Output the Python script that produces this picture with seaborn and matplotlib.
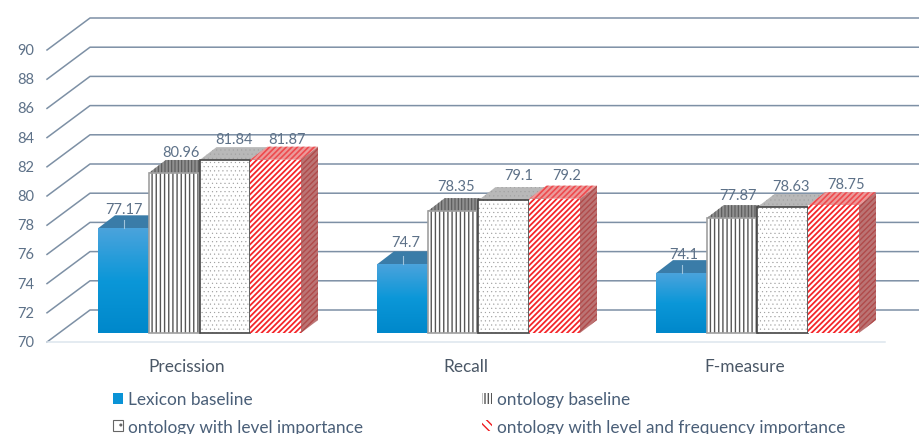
import matplotlib
matplotlib.use("Agg")
import matplotlib.pyplot as plt
import numpy as np
import pandas as pd
import seaborn as sns
from matplotlib.colors import LinearSegmentedColormap
from matplotlib.lines import Line2D
from matplotlib.patches import Patch, Polygon
from matplotlib.transforms import IdentityTransform

# values
metrics = ["Precission", "Recall", "F-measure"]
series = ["Lexicon baseline", "ontology baseline", "ontology with level importance",
          "ontology with level and frequency importance"]
lexicon = [77.17, 74.7, 74.1]
onto_base = [80.96, 78.35, 77.87]
onto_level = [81.84, 79.1, 78.63]
onto_freq = [81.87, 79.2, 78.75]
value_labels = [["77.17", "74.7", "74.1"], ["80.96", "78.35", "77.87"],
                ["81.84", "79.1", "78.63"], ["81.87", "79.2", "78.75"]]
yticks = [70, 72, 74, 76, 78, 80, 82, 84, 86, 88, 90]

W, H = 919, 435
BASE = 70
ROW70 = 334           # pixel row of 70 on the bar front
DEPTH = (17, 13)      # bar depth in pixels
FLOOR_DROP = 9        # wall front sits lower than the bar front
WALL = (43, 32)
TEXT = "#5d7188"

plt.rcParams["font.family"] = ["Lato", "DejaVu Sans"]

df = pd.DataFrame({
    "metric": metrics * 4,
    "series": np.repeat(series, 3),
    "value": lexicon + onto_base + onto_level + onto_freq,
})

fig = plt.figure(figsize=(W / 100, H / 100), dpi=100)
ax = fig.add_axes([0, 0, 1, 1])
sns.barplot(data=df, x="metric", y="value", hue="series", hue_order=series,
            order=metrics, width=0.7276, gap=0, errorbar=None, legend=False,
            palette=["white"] * 4, ax=ax)


def set_limits():
    # 14.6 px per unit, groups 279 px apart
    ax.set_xlim(-199.5 / 279, (W - 199.5) / 279)
    ax.set_ylim(BASE - (H - ROW70) / 14.6, BASE + ROW70 / 14.6)


set_limits()
ax.axis("off")
px = IdentityTransform()


def to_px(x, y):
    return ax.transData.transform((x, y))


# back wall and side wall lines
for v in yticks:
    y0 = to_px(0, v)[1] - FLOOR_DROP
    ax.add_line(Line2D([47, 47 + WALL[0], W], [y0, y0 + WALL[1], y0 + WALL[1]],
                       transform=px, color="#7d90a5", lw=1.1, zorder=1))
    ax.text(34, y0, str(v), transform=px, ha="right", va="center", fontsize=10.5, color=TEXT)
y0 = to_px(0, BASE)[1] - FLOOR_DROP
ax.add_line(Line2D([47, 885], [y0, y0], transform=px, color="#dde6ee", lw=1.1, zorder=1))

face_styles = [
    dict(facecolor="#0a93d6", edgecolor="none"),
    dict(facecolor="white", edgecolor="#555555", hatch="||||", lw=0, hatch_linewidth=1.0),
    dict(facecolor="white", edgecolor="#9a9a9a", hatch="....", lw=0, hatch_linewidth=0.3),
    dict(facecolor="white", edgecolor="#f5262a", hatch="//////", lw=0, hatch_linewidth=1.3),
]
top_styles = [
    dict(facecolor="#3a7ca8", edgecolor="none"),
    dict(facecolor="#8f8f8f", edgecolor="#5a5a5a", hatch="|||||", lw=0, hatch_linewidth=0.8),
    dict(facecolor="#b8b8b8", edgecolor="#a0a0a0", hatch="....", lw=0, hatch_linewidth=0.3),
    dict(facecolor="#eb9a9a", edgecolor="#ee4a4e", hatch="//////", lw=0, hatch_linewidth=1.2),
]
side_styles = [
    dict(facecolor="#2a6f9c", edgecolor="none"),
    dict(facecolor="#777777", edgecolor="none"),
    dict(facecolor="#8a8a8a", edgecolor="none"),
    dict(facecolor="#bb7474", edgecolor="#b04a4a", hatch="//////", lw=0, hatch_linewidth=1.0),
]
outline = [None, "#a0a0a0", "#454545", None]
label_dx = [[1, 3, 2], [7, 3, 6], [9.5, 15, 8], [11.5, 12, 12]]
label_dy = [[19, 22, 19], [21, 25, 23], [21, 25, 21], [21, 24, 21]]

blue_map = LinearSegmentedColormap.from_list("blue", ["#4aa3dc", "#0b97d8", "#0088cb"])
gradient = np.linspace(0, 1, 64).reshape(-1, 1)

for i, container in enumerate(ax.containers):
    z = 3 + 2 * i
    for j, bar in enumerate(container):
        top = bar.get_height()
        bar.set_y(BASE)
        bar.set_height(top - BASE)
        bar.set(zorder=z + 1, **face_styles[i])
        x0, x1 = bar.get_x(), bar.get_x() + bar.get_width()
        (xa, ya), (xb, yb) = to_px(x0, BASE), to_px(x1, top)
        ax.add_patch(Polygon([(xa, yb), (xb, yb), (xb + DEPTH[0], yb + DEPTH[1]), (xa + DEPTH[0], yb + DEPTH[1])],
                             transform=px, zorder=z, **top_styles[i]))
        ax.add_patch(Polygon([(xb, ya), (xb, yb), (xb + DEPTH[0], yb + DEPTH[1]), (xb + DEPTH[0], ya + DEPTH[1])],
                             transform=px, zorder=z, **side_styles[i]))
        if outline[i]:
            ax.add_patch(Polygon([(xa, ya), (xb, ya), (xb, yb), (xa, yb)], transform=px, fill=False,
                                 edgecolor=outline[i], lw=1.2, zorder=z + 1.2))
        if i == 0:
            ax.imshow(gradient, extent=(x0, x1, BASE, top), aspect="auto", cmap=blue_map,
                      zorder=z + 1.5)
            ax.add_line(Line2D([(xa + xb) / 2 + 1] * 2, [yb, yb + 8], transform=px,
                               color="#9fc4dc", lw=0.8, zorder=z + 2))
        ax.text((xa + xb) / 2 + label_dx[i][j], yb + label_dy[i][j], value_labels[i][j],
                transform=px, ha="center", va="center", fontsize=10.5, color=TEXT, zorder=20)

set_limits()

# category names under the floor
for j, name in enumerate(metrics):
    ax.text(to_px(j, BASE)[0] - 13, H - 367, name, transform=px, ha="center", va="center",
            fontsize=12.4, color="#4a5766")

handles = [
    Patch(facecolor="#0a93d6", edgecolor="none"),
    Patch(facecolor="white", edgecolor="#555555", hatch="|||||", lw=0, hatch_linewidth=1.0),
    Patch(facecolor="white", edgecolor="#666666", hatch="..", lw=0.8, hatch_linewidth=0.4),
    Patch(facecolor="white", edgecolor="#f01c20", hatch="\\\\\\\\", lw=0, hatch_linewidth=1.8),
]
order = [0, 2, 1, 3]
leg = ax.legend([handles[k] for k in order], [series[k] for k in order], ncol=2,
                loc="lower left", bbox_to_anchor=(113 / W, -1 / H), frameon=False,
                fontsize=12.4, labelcolor="#4a5f78", handlelength=0.58, handleheight=0.6,
                handletextpad=0.3, labelspacing=0.68, columnspacing=6.9, borderpad=0,
                borderaxespad=0)

fig.savefig("out.png", dpi=100)
